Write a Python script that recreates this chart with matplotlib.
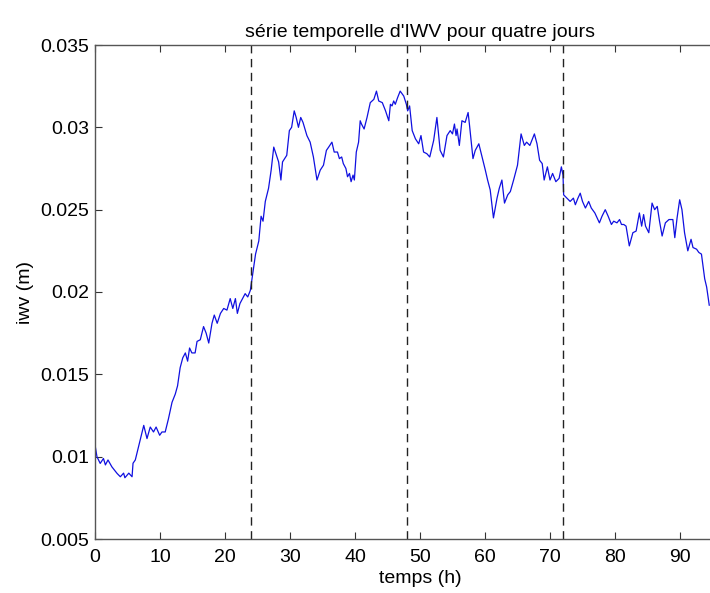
import numpy as np
import matplotlib
matplotlib.use("Agg")
import matplotlib.pyplot as plt

# IWV time series (hours, metres)
temps_h = [
    0.05, 0.3, 0.8, 1.3, 1.6, 2.0, 2.6, 3.4, 3.9, 4.4, 4.6, 5.2, 5.7, 5.85,
    6.2, 6.7, 7.5, 8.0, 8.5, 9.0, 9.4, 9.95, 10.3, 10.8, 11.3, 11.85, 12.35,
    12.7, 13.1, 13.5, 13.9, 14.25, 14.55, 14.9, 15.4, 15.7, 16.2, 16.7, 17.1,
    17.5, 18.0, 18.35, 18.8, 19.3, 19.8, 20.3, 20.8, 21.2, 21.6, 21.9, 22.3,
    22.7, 23.1, 23.5, 23.9, 24.15, 24.7, 25.2, 25.55, 25.85, 26.2, 26.7, 27.1,
    27.5, 28.0, 28.25, 28.6, 28.85, 29.5, 29.9, 30.25, 30.65, 30.95, 31.3,
    31.65, 32.0, 32.6, 33.1, 33.6, 34.15, 34.65, 35.15, 35.6, 35.95, 36.45,
    36.8, 37.3, 37.6, 37.95, 38.2, 38.6, 38.85, 39.15, 39.4, 39.7, 39.9, 40.2,
    40.55, 40.8, 41.0, 41.4, 41.85, 42.35, 42.9, 43.3, 43.65, 44.2, 44.7,
    45.2, 45.45, 45.7, 45.95, 46.2, 46.55, 46.95, 47.5, 47.9, 48.1, 48.4,
    48.8, 49.3, 49.8, 50.15, 50.55, 51.05, 51.5, 52.1, 52.6, 53.1, 53.6,
    54.15, 54.65, 55.0, 55.3, 55.55, 55.7, 56.05, 56.45, 56.95, 57.4, 57.6,
    58.15, 58.5, 59.05, 59.55, 60.05, 60.4, 60.8, 61.3, 61.85, 62.2, 62.6,
    63.0, 63.5, 63.9, 64.4, 65.0, 65.55, 66.05, 66.4, 66.9, 67.6, 68.0, 68.4,
    68.8, 69.1, 69.6, 70.0, 70.4, 70.9, 71.4, 71.75, 72.0, 72.1, 72.6, 73.1,
    73.6, 73.9, 74.3, 74.65, 75.0, 75.45, 75.95, 76.35, 76.9, 77.25, 77.6,
    78.0, 78.5, 78.95, 79.45, 79.8, 80.3, 80.7, 81.0, 81.35, 81.7, 82.2,
    82.75, 83.25, 83.75, 84.1, 84.4, 84.7, 85.2, 85.7, 86.1, 86.5, 86.85,
    87.25, 87.75, 88.3, 88.9, 89.2, 89.55, 89.95, 90.3, 90.7, 91.2, 91.7,
    92.0, 92.55, 92.9, 93.3, 93.8, 94.1, 94.5,
]
iwv_m = [
    0.0106, 0.0100, 0.00959, 0.00989, 0.0095, 0.0098, 0.00938, 0.00898,
    0.00878, 0.0090, 0.00872, 0.0090, 0.00878, 0.0096, 0.0098, 0.0106,
    0.0119, 0.0111, 0.0118, 0.0115, 0.0118, 0.0113, 0.0115, 0.0115, 0.0123,
    0.0133, 0.0138, 0.0143, 0.0154, 0.0160, 0.0163, 0.0158, 0.0166, 0.0163,
    0.0163, 0.0170, 0.0171, 0.0179, 0.0175, 0.0169, 0.0181, 0.0186, 0.0181,
    0.0187, 0.0190, 0.0189, 0.0196, 0.0190, 0.0196, 0.0187, 0.0193, 0.0196,
    0.0199, 0.0197, 0.0201, 0.0208, 0.0223, 0.0231, 0.0246, 0.0243, 0.0255,
    0.0263, 0.0274, 0.0288, 0.0282, 0.0279, 0.0268, 0.0279, 0.0283, 0.0298,
    0.0300, 0.0310, 0.0306, 0.0300, 0.0306, 0.0303, 0.0295, 0.0291, 0.0282,
    0.0268, 0.0274, 0.0277, 0.0286, 0.0288, 0.0291, 0.0285, 0.0285, 0.0281,
    0.0282, 0.0278, 0.0275, 0.0270, 0.0272, 0.0267, 0.0271, 0.0268, 0.0285,
    0.0291, 0.0304, 0.0302, 0.0299, 0.0306, 0.0315, 0.0317, 0.0322, 0.0316,
    0.0315, 0.0310, 0.0304, 0.0314, 0.0313, 0.0316, 0.0314, 0.0318, 0.0322,
    0.0319, 0.0314, 0.0310, 0.0313, 0.0298, 0.0293, 0.0290, 0.0295, 0.0285,
    0.0284, 0.0282, 0.0292, 0.0306, 0.0286, 0.0282, 0.0295, 0.0298, 0.0296,
    0.0302, 0.0295, 0.0299, 0.0289, 0.0304, 0.0303, 0.0309, 0.0302, 0.0281,
    0.0286, 0.0290, 0.0282, 0.0274, 0.0268, 0.0262, 0.0245, 0.0257, 0.0263,
    0.0268, 0.0254, 0.0259, 0.0261, 0.0268, 0.0277, 0.0296, 0.0289, 0.0291,
    0.0289, 0.0296, 0.0290, 0.0280, 0.0278, 0.0268, 0.0276, 0.0268, 0.0272,
    0.0267, 0.0269, 0.0276, 0.0271, 0.0259, 0.0257, 0.0255, 0.0257, 0.0253,
    0.0257, 0.0260, 0.0255, 0.0251, 0.0255, 0.0251, 0.0248, 0.0245, 0.0242,
    0.0246, 0.0250, 0.0246, 0.0241, 0.0243, 0.0242, 0.0244, 0.0241, 0.0241,
    0.0240, 0.0228, 0.0236, 0.0237, 0.0248, 0.0240, 0.0247, 0.0240, 0.0236,
    0.0254, 0.0250, 0.0252, 0.0243, 0.0234, 0.0242, 0.0244, 0.0244, 0.0233,
    0.0245, 0.0256, 0.0250, 0.0236, 0.0225, 0.0232, 0.0227, 0.0226, 0.0224,
    0.0223, 0.0208, 0.0203, 0.0192,
]
jours_h = [24, 48, 72]
x_ticks = list(range(0, 91, 10))
y_ticks = [0.005, 0.01, 0.015, 0.02, 0.025, 0.03, 0.035]
y_tick_labels = ["0.005", "0.01", "0.015", "0.02", "0.025", "0.03", "0.035"]

plt.rcParams['font.family'] = ['Liberation Sans', 'DejaVu Sans']
plt.rcParams['font.size'] = 14

fig = plt.figure(figsize=(7.1, 5.93), dpi=100)
# the axes runs past the right edge of the picture, as in the cropped original
ax = fig.add_axes([95 / 710, 54 / 593, 650 / 710, 494 / 593])

ax.plot(temps_h, iwv_m, color='#1010e0', linewidth=0.9)
for j in jours_h:
    ax.axvline(j, color='#222222', linestyle=(0, (6, 4)), linewidth=1.0)

ax.set_xlim(0, 100)
ax.set_ylim(0.005, 0.035)
ax.set_xticks(x_ticks)
ax.set_yticks(y_ticks)
ax.set_yticklabels(y_tick_labels)
ax.tick_params(direction='in', length=5, width=0.8, color='#333333',
               top=True, right=True)
ax.tick_params(axis='x', pad=7)
ax.tick_params(axis='y', pad=4)
for s in ax.spines.values():
    s.set_color('#555555')
    s.set_linewidth(1.0)

ax.set_xlabel("temps (h)", labelpad=3)
ax.set_ylabel("iwv (m)", labelpad=5)
ax.set_title("série temporelle d'IWV pour quatre jours", pad=6, fontsize=14)

fig.savefig("out.png", dpi=100)
